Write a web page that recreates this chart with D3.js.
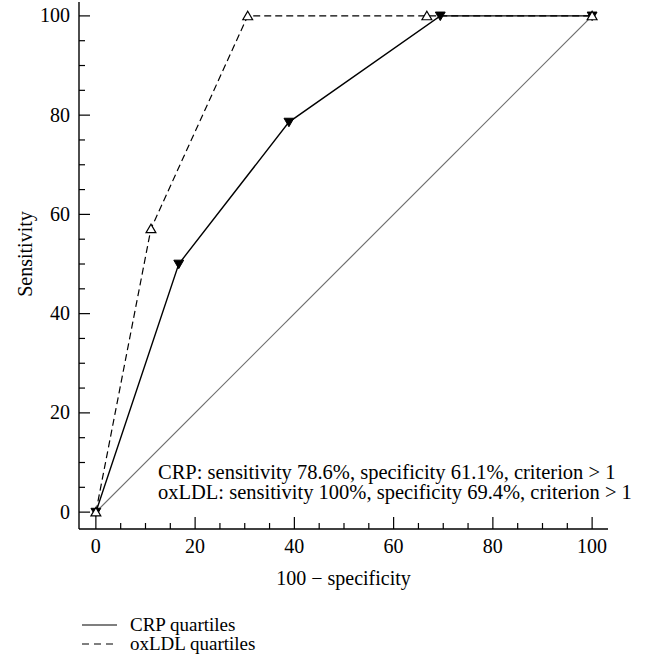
<!DOCTYPE html>
<html>
<head>
<meta charset="utf-8">
<script src="https://cdn.jsdelivr.net/npm/d3@7"></script>
<style>
  body { margin: 0; background: #fff; }
  svg { font-family: 'Liberation Serif', 'DejaVu Serif', serif; }
</style>
</head>
<body>
<svg id="chart" width="647" height="665"></svg>
<script>
'use strict';

// data
const crpX = [0, 16.7, 38.9, 69.4, 100];
const crpY = [0, 50, 78.6, 100, 100];
const oxX = [0, 11.1, 30.6, 66.7, 100];
const oxY = [0, 57.1, 100, 100, 100];
const refX = [0, 100];
const refY = [0, 100];
const xTicks = [0, 20, 40, 60, 80, 100];
const yTicks = [0, 20, 40, 60, 80, 100];
const notes = ['CRP: sensitivity 78.6%, specificity 61.1%, criterion > 1',
               'oxLDL: sensitivity 100%, specificity 69.4%, criterion > 1'];
const legendNames = ['CRP quartiles', 'oxLDL quartiles'];

const svg = d3.select('#chart');
const plotLeft = 79, plotRight = 608, plotTop = 2, plotBottom = 529;

const x = d3.scaleLinear().domain([-3.4, 103.2]).range([plotLeft, plotRight]);
const y = d3.scaleLinear().domain([-3.4, 102.8]).range([plotBottom, plotTop]);

const fontSize = 20;

// axes
let xAxis = svg.append('g').attr('transform', 'translate(0,' + plotBottom + ')');
xAxis.append('line').attr('x1', plotLeft).attr('x2', plotRight)
     .attr('stroke', '#000').attr('stroke-width', 1.4);
let xMinor = d3.range(0, 101, 5);
xAxis.selectAll('.minor').data(xMinor).enter().append('line')
     .attr('x1', d => x(d)).attr('x2', d => x(d))
     .attr('y1', 0).attr('y2', d => d % 20 == 0 ? -12 : -6)
     .attr('stroke', '#000').attr('stroke-width', 1.2);
xAxis.selectAll('text').data(xTicks).enter().append('text')
     .attr('x', d => x(d)).attr('y', 24)
     .attr('text-anchor', 'middle')
     .attr('font-size', fontSize)
     .text(d => d);

let yAxis = svg.append('g').attr('transform', 'translate(' + plotLeft + ',0)');
yAxis.append('line').attr('y1', plotTop).attr('y2', plotBottom)
     .attr('stroke', '#000').attr('stroke-width', 1.4);
let yMinor = d3.range(0, 101, 5);
yAxis.selectAll('.minor').data(yMinor).enter().append('line')
     .attr('y1', d => y(d)).attr('y2', d => y(d))
     .attr('x1', 0).attr('x2', d => d % 20 == 0 ? 11 : 6)
     .attr('stroke', '#000').attr('stroke-width', 1.2);
yAxis.selectAll('text').data(yTicks).enter().append('text')
     .attr('x', -9).attr('y', d => y(d) + 6.5)
     .attr('text-anchor', 'end')
     .attr('font-size', fontSize)
     .text(d => d);

svg.append('text')
   .attr('x', (plotLeft + plotRight) / 2).attr('y', 585)
   .attr('text-anchor', 'middle')
   .attr('font-size', fontSize)
   .text('100 \u2212 specificity');

svg.append('text')
   .attr('transform', 'translate(32,254) rotate(-90)')
   .attr('text-anchor', 'middle')
   .attr('font-size', fontSize)
   .text('Sensitivity');

// lines
const line = d3.line().x(d => x(d[0])).y(d => y(d[1]));

svg.append('path')
   .datum(d3.zip(refX, refY))
   .attr('d', line)
   .attr('fill', 'none').attr('stroke', '#6e6e6e').attr('stroke-width', 1.2);

svg.append('path')
   .datum(d3.zip(oxX, oxY))
   .attr('d', line)
   .attr('fill', 'none').attr('stroke', '#000').attr('stroke-width', 1.2)
   .attr('stroke-dasharray', '7,4');

svg.append('path')
   .datum(d3.zip(crpX, crpY))
   .attr('d', line)
   .attr('fill', 'none').attr('stroke', '#000').attr('stroke-width', 1.4);

// markers
const triUp = d3.symbol().type(d3.symbolTriangle).size(42);

svg.selectAll('.crp').data(d3.zip(crpX, crpY)).enter().append('path')
   .attr('d', triUp)
   .attr('transform', d => 'translate(' + x(d[0]) + ',' + (y(d[1]) - 1) + ') rotate(180)')
   .attr('fill', '#000').attr('stroke', '#000').attr('stroke-width', 1);

svg.selectAll('.ox').data(d3.zip(oxX, oxY)).enter().append('path')
   .attr('d', triUp)
   .attr('transform', d => 'translate(' + x(d[0]) + ',' + (y(d[1]) + 1) + ')')
   .attr('fill', '#fff').attr('stroke', '#000').attr('stroke-width', 1.2);

// annotation
svg.selectAll('.note').data(notes).enter().append('text')
   .attr('x', 158).attr('y', (d, i) => 479 + i * 20)
   .attr('font-size', 20.5)
   .text(d => d);

// legend
let legend = svg.append('g');
legendNames.forEach(function(name, i) {
    let ly = 625 + i * 19;
    legend.append('line')
          .attr('x1', 82).attr('x2', 117)
          .attr('y1', ly).attr('y2', ly)
          .attr('stroke', '#000').attr('stroke-width', 1.2)
          .attr('stroke-dasharray', i == 1 ? '7,5' : null);
    legend.append('text')
          .attr('x', 130).attr('y', ly + 5.5)
          .attr('font-size', 19)
          .text(name);
});
</script>
</body>
</html>
